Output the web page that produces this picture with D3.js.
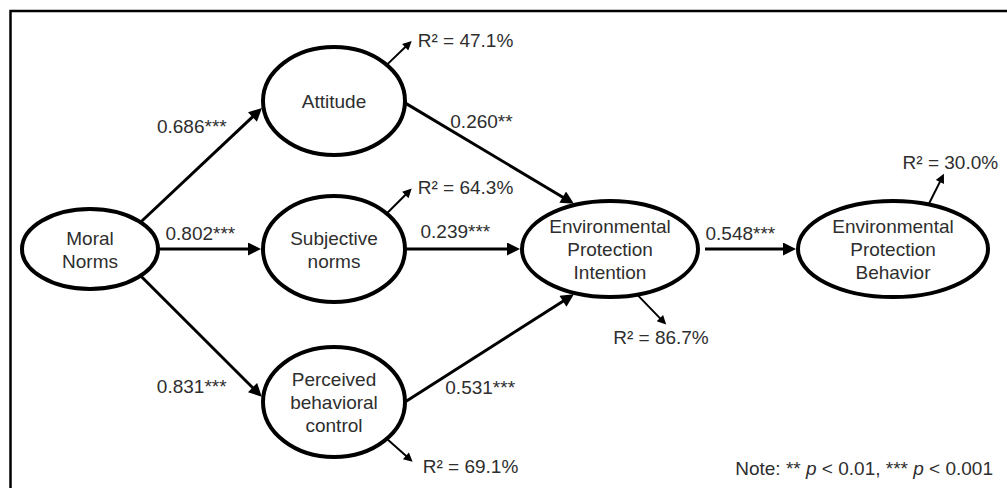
<!DOCTYPE html>
<html>
<head>
<meta charset="utf-8">
<script src="https://cdn.jsdelivr.net/npm/d3@7"></script>
<style>
  body { margin: 0; background: #fff; }
  svg text { font-family: "Liberation Sans", Arial, sans-serif; font-size: 19px; fill: #2e2e2e; }
</style>
</head>
<body>
<div id="chart"></div>
<script>
// ---- data ----
var nodeLabels = [
  ["Moral", "Norms"],
  ["Attitude"],
  ["Subjective", "norms"],
  ["Perceived", "behavioral", "control"],
  ["Environmental", "Protection", "Intention"],
  ["Environmental", "Protection", "Behavior"]
];
var pathFrom     = [0, 0, 0, 1, 2, 3, 4];
var pathTo       = [1, 2, 3, 4, 4, 4, 5];
var coefficients = [0.686, 0.802, 0.831, 0.260, 0.239, 0.531, 0.548];
var significance = ["***", "***", "***", "**", "***", "***", "***"];
var r2Nodes  = [1, 2, 3, 4, 5];
var r2Values = [47.1, 64.3, 69.1, 86.7, 30.0];

// ---- layout ----
var nodeCol = [0, 1, 1, 1, 2, 3];
var nodeRow = [1, 0, 1, 2, 1, 1];
var nodeRx  = [68, 71, 71, 71, 88, 95];
var nodeRy  = [40, 54, 53, 55, 48, 48];
var x = d3.scaleOrdinal().domain([0, 1, 2, 3]).range([90, 334, 610, 893]);
var y = d3.scaleOrdinal().domain([0, 1, 2]).range([101, 249, 402]);

// anchor angles on the ellipses (deg), start gap, label offset from mid
var pathStartAng = [-42, 0, 42, 2, 0, 0, 0];
var pathEndAng   = [174, 180, 184, 247, 180, 113, 180];
var pathGap      = [0, 0, 0, 0, 0, 0, 7];
var pathLabelOff = [[-45, -31], [-45, -9], [-45, 56], [-40, -26], [-43, -11], [-45, 46], [-46, -9]];
var r2Ang    = [-42, -42, 42, 72, -68];
var r2Vec    = [[26, -25], [26, -26], [27, 24], [30, 31], [16, -32]];
var r2LabOff = [[5, 7], [5, 6], [9, 10], [-54, 18], [-42, -3]];

var width = 1007, height = 488;
var lineH = 23;

var svg = d3.select('#chart').append('svg')
  .attr('width', width).attr('height', height);

svg.append('rect')
  .attr('x', 10.5).attr('y', 11).attr('width', 1100).attr('height', 600)
  .attr('fill', 'none').attr('stroke', '#000').attr('stroke-width', 2.5);

var defs = svg.append('defs');
function marker(id, w, h) {
  defs.append('marker')
    .attr('id', id)
    .attr('viewBox', '0 -5 10 10')
    .attr('refX', 5).attr('refY', 0)
    .attr('markerUnits', 'userSpaceOnUse')
    .attr('markerWidth', w).attr('markerHeight', h)
    .attr('orient', 'auto')
    .append('path').attr('d', 'M0,-5L10,0L0,5Z').attr('fill', '#000');
}
marker('head', 17, 13);
marker('headSmall', 12, 9);

function pt(n, deg) {
  var a = deg * Math.PI / 180;
  return [x(nodeCol[n]) + nodeRx[n] * Math.cos(a), y(nodeRow[n]) + nodeRy[n] * Math.sin(a)];
}

// nodes
var nodes = svg.append('g').selectAll('g')
  .data(nodeLabels).enter().append('g')
  .attr('transform', function(d, i) { return 'translate(' + x(nodeCol[i]) + ',' + y(nodeRow[i]) + ')'; });

nodes.append('ellipse')
  .attr('rx', function(d, i) { return nodeRx[i]; })
  .attr('ry', function(d, i) { return nodeRy[i]; })
  .attr('fill', '#fff').attr('stroke', '#000').attr('stroke-width', 4);

nodes.append('text')
  .attr('text-anchor', 'middle')
  .selectAll('tspan').data(function(d) { return d.map(function(t, k) { return { t: t, k: k, n: d.length }; }); })
  .enter().append('tspan')
  .attr('x', 0)
  .attr('y', function(d) { return (d.k - (d.n - 1) / 2) * lineH + 7; })
  .text(function(d) { return d.t; });

// structural paths
var paths = pathFrom.map(function(f, i) {
  var s = pt(f, pathStartAng[i]);
  var e = pt(pathTo[i], pathEndAng[i]);
  var dx = e[0] - s[0], dy = e[1] - s[1], len = Math.sqrt(dx * dx + dy * dy);
  var ux = dx / len, uy = dy / len;
  s = [s[0] + ux * pathGap[i], s[1] + uy * pathGap[i]];
  return { s: s, e: e, e2: [e[0] - ux * 8.5, e[1] - uy * 8.5], i: i };
});

svg.append('g').selectAll('line').data(paths).enter().append('line')
  .attr('x1', function(d) { return d.s[0]; }).attr('y1', function(d) { return d.s[1]; })
  .attr('x2', function(d) { return d.e2[0]; }).attr('y2', function(d) { return d.e2[1]; })
  .attr('stroke', '#000').attr('stroke-width', 3)
  .attr('marker-end', 'url(#head)');

svg.append('g').selectAll('text').data(paths).enter().append('text')
  .attr('x', function(d) { return (d.s[0] + d.e[0]) / 2 + pathLabelOff[d.i][0]; })
  .attr('y', function(d) { return (d.s[1] + d.e[1]) / 2 + pathLabelOff[d.i][1]; })
  .text(function(d) { return d3.format('.3f')(coefficients[d.i]) + significance[d.i]; });

// R-squared arrows
var r2 = r2Nodes.map(function(n, i) {
  var s = pt(n, r2Ang[i]);
  var e = [s[0] + r2Vec[i][0], s[1] + r2Vec[i][1]];
  var len = Math.sqrt(r2Vec[i][0] * r2Vec[i][0] + r2Vec[i][1] * r2Vec[i][1]);
  return { s: s, e: e, e2: [e[0] - r2Vec[i][0] / len * 6, e[1] - r2Vec[i][1] / len * 6], i: i };
});

svg.append('g').selectAll('line').data(r2).enter().append('line')
  .attr('x1', function(d) { return d.s[0]; }).attr('y1', function(d) { return d.s[1]; })
  .attr('x2', function(d) { return d.e2[0]; }).attr('y2', function(d) { return d.e2[1]; })
  .attr('stroke', '#000').attr('stroke-width', 2)
  .attr('marker-end', 'url(#headSmall)');

svg.append('g').selectAll('text').data(r2).enter().append('text')
  .attr('x', function(d) { return d.e[0] + r2LabOff[d.i][0]; })
  .attr('y', function(d) { return d.e[1] + r2LabOff[d.i][1]; })
  .text(function(d) { return 'R\u00b2 = ' + d3.format('.1f')(r2Values[d.i]) + '%'; });

// note
var note = svg.append('text').attr('x', 993).attr('y', 475).attr('text-anchor', 'end');
note.append('tspan').text('Note: ** ');
note.append('tspan').attr('font-style', 'italic').text('p');
note.append('tspan').text(' < 0.01, *** ');
note.append('tspan').attr('font-style', 'italic').text('p');
note.append('tspan').text(' < 0.001');
</script>
</body>
</html>
